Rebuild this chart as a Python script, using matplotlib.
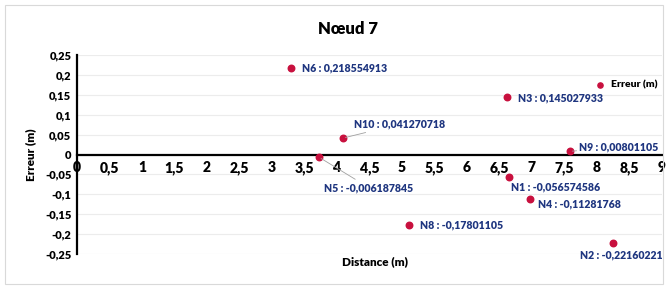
import matplotlib.pyplot as plt
from matplotlib.patches import Rectangle

# data
noms = ["N1", "N2", "N3", "N4", "N5", "N6", "N8", "N9", "N10"]
distance = [6.65, 8.25, 6.62, 6.97, 3.72, 3.29, 5.11, 7.58, 4.09]
erreur = [-0.056574586, -0.22160221, 0.145027933, -0.11281768, -0.006187845,
          0.218554913, -0.17801105, 0.00801105, 0.041270718]
xticks = [0, 0.5, 1, 1.5, 2, 2.5, 3, 3.5, 4, 4.5, 5, 5.5, 6, 6.5, 7, 7.5, 8, 8.5, 9]
yticks = [-0.25, -0.2, -0.15, -0.1, -0.05, 0, 0.05, 0.1, 0.15, 0.2, 0.25]

# label offsets (points) and whether a leader line is drawn
offsets = {"N1": (1, -7, False), "N2": (-24, -9, False), "N3": (8, -1, False),
           "N4": (6, -3, False), "N5": (4, -22, True), "N6": (8, 0, False),
           "N8": (8, 0, False), "N9": (7, 3, True), "N10": (8, 10, True)}

def fmt(v):
    return ("%g" % v).replace(".", ",")

plt.rcParams['font.family'] = ['Lato', 'DejaVu Sans']
plt.rcParams['font.weight'] = 'heavy'

fs = 7.6
fig = plt.figure(figsize=(6.68, 2.87), dpi=100)
ax = fig.add_axes([0.115, 0.115, 0.876, 0.693])
fig.patches.append(Rectangle((0.008, 0.012), 0.984, 0.972, transform=fig.transFigure,
                             fill=False, edgecolor="#d9d9d9", lw=0.8))

ax.set_xlim(0, 9)
ax.set_ylim(-0.25, 0.25)
ax.set_yticks(yticks)
ax.set_yticklabels([fmt(v) for v in yticks], fontsize=8, fontweight='heavy')
ax.set_xticks(xticks)
ax.set_xticklabels([fmt(v) for v in xticks], fontsize=8, fontweight='heavy')
# horizontal grid, kept under the tick labels
for v in yticks:
    ax.axhline(v, color="#ececec", lw=0.8, zorder=0.1)
for s in ["top", "right"]:
    ax.spines[s].set_visible(False)
ax.spines['bottom'].set_position(('data', 0))
ax.spines['bottom'].set_linewidth(1.6)
ax.spines['left'].set_linewidth(1.6)
ax.tick_params(axis='both', length=0, pad=4)
ax.tick_params(axis='x', pad=5)

ax.scatter(distance, erreur, s=22, color="#c8103e", zorder=3, label="Erreur (m)")

for n, x, y in zip(noms, distance, erreur):
    dx, dy, line = offsets[n]
    txt = n + " : " + ("%.9f" % y).rstrip("0").replace(".", ",")
    if n == "N2":
        txt = "N2 : -0,22160221"
    ax.annotate(txt, (x, y), xytext=(dx, dy), textcoords="offset points",
                fontsize=fs, color="#1f3680", fontweight='heavy', va="center",
                annotation_clip=False,
                arrowprops=dict(arrowstyle="-", color="#a0a0a0", lw=0.6,
                                shrinkA=0, shrinkB=2) if line else None)

ax.legend(loc="center left", bbox_to_anchor=(0.87, 0.85), frameon=False,
          handletextpad=0.0, markerscale=0.8, borderaxespad=0,
          prop={'weight': 'heavy', 'size': 7.5})

fig.text(0.521, 0.9, "Nœud 7", ha="center", va="center", fontsize=12, fontweight='heavy')
ax.set_ylabel("Erreur (m)", fontsize=8.5, fontweight='heavy', labelpad=6)
fig.text(0.562, 0.087, "Distance (m)", ha="center", va="center", fontsize=8.5,
         fontweight='heavy')

plt.savefig("out.png", dpi=100)
